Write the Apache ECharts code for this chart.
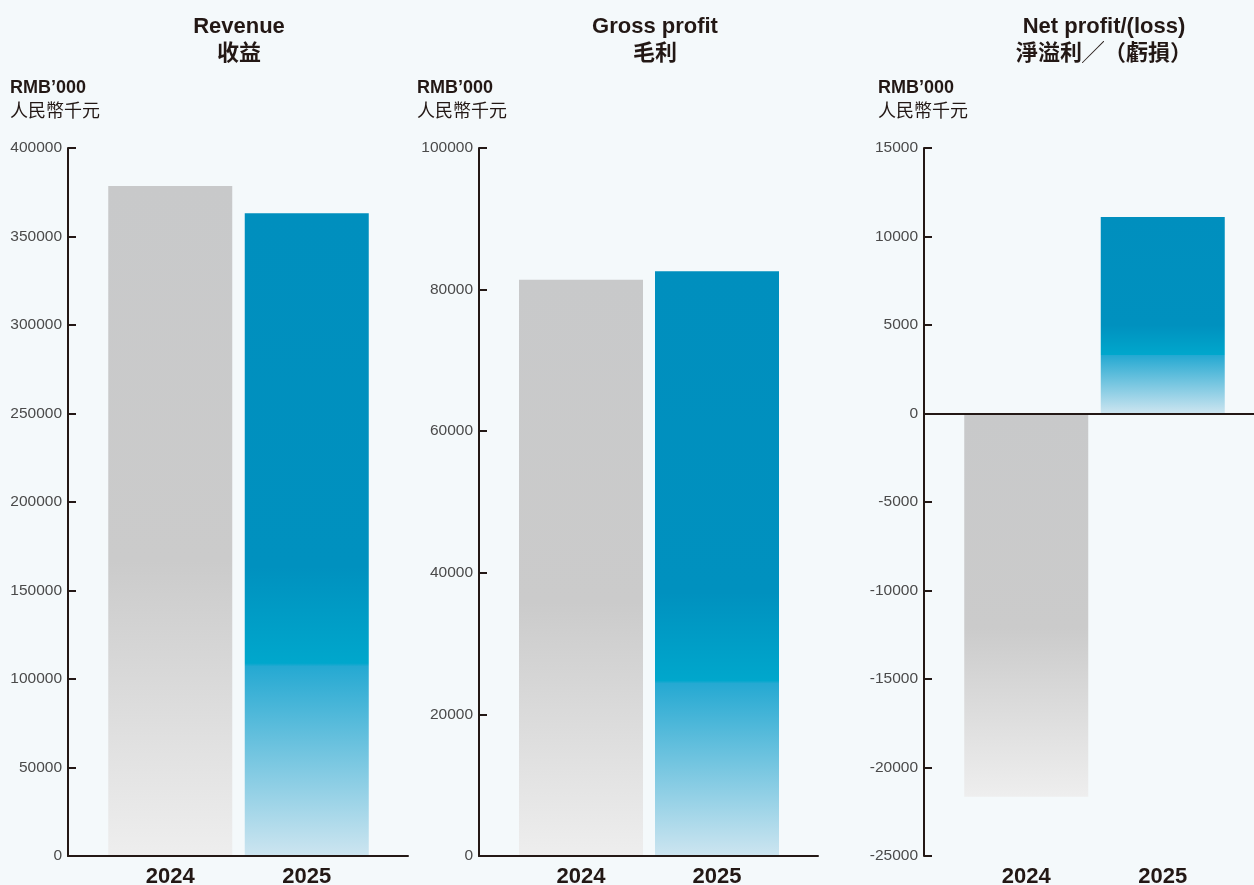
<!DOCTYPE html>
<html><head><meta charset="utf-8">
<script src="https://cdn.jsdelivr.net/npm/echarts@6/dist/echarts.min.js"></script>
<style>html,body{margin:0;padding:0;background:#f4f9fb}#c{width:1254px;height:885px}</style>
</head><body><div id="c"></div>
<script>
// ---- data ----
const categories = ['2024', '2025'];
const revenueValues = [378500, 363100];
const grossProfitValues = [81400, 82600];
const netProfitValues = [-21650, 11100];
const titlesEn = ['Revenue', 'Gross profit', 'Net profit/(loss)'];
const titlesZh = ['收益', '毛利', '淨溢利╱（虧損）'];
const unitEn = 'RMB’000';
const unitZh = '人民幣千元';
const revenueAxis = { min: 0, max: 400000, interval: 50000 };
const grossAxis = { min: 0, max: 100000, interval: 20000 };
const netAxis = { min: -25000, max: 15000, interval: 5000 };

// ---- style / layout ----
const FONT = '"Liberation Sans", Arial, "Noto Sans CJK TC", sans-serif';
const INK = '#231815';
const grayGrad = new echarts.graphic.LinearGradient(0, 0, 0, 1, [
  { offset: 0, color: '#c8c9ca' },
  { offset: 0.56, color: '#cbcbcb' },
  { offset: 1, color: '#eeeeee' }
]);
const blueGrad = new echarts.graphic.LinearGradient(0, 0, 0, 1, [
  { offset: 0, color: '#008fbe' },
  { offset: 0.55, color: '#0091bf' },
  { offset: 0.70, color: '#00a7cc' },
  { offset: 0.705, color: '#25a9d2' },
  { offset: 1, color: '#cde5f0' }
]);
const barColors = [grayGrad, blueGrad];

const panels = [
  { values: revenueValues, axis: revenueAxis, axisLeft: 68, axisRight: 846, barLeft: 102, barW: 273, titleX: 239, unitX: 10 },
  { values: grossProfitValues, axis: grossAxis, axisLeft: 479, axisRight: 436, barLeft: 513, barW: 272, titleX: 655, unitX: 417 },
  { values: netProfitValues, axis: netAxis, axisLeft: 924, axisRight: 0, barLeft: 958, barW: 273, titleX: 1104, unitX: 878 }
];

const grid = [], xAxis = [], yAxis = [], series = [], title = [];
panels.forEach((p, i) => {
  const gb = 2 * i, ga = 2 * i + 1;
  grid.push({ left: p.axisLeft, right: p.axisRight, top: 148, height: 708, outerBoundsMode: 'none', containLabel: false });
  grid.push({ left: p.barLeft, width: p.barW, top: 148, height: 708, outerBoundsMode: 'none', containLabel: false });
  xAxis.push({
    gridIndex: gb, type: 'category', data: categories, z: 5,
    axisLine: { show: true, onZero: true, lineStyle: { color: INK, width: 2 } },
    axisTick: { show: false }, axisLabel: { show: false }, splitLine: { show: false }
  });
  xAxis.push({
    gridIndex: ga, type: 'category', data: categories,
    axisLine: { show: false, onZero: false }, axisTick: { show: false },
    axisLabel: { fontSize: 22, fontWeight: 'bold', color: INK, fontFamily: FONT, margin: 10 }
  });
  yAxis.push({
    gridIndex: gb, type: 'value', min: p.axis.min, max: p.axis.max, interval: p.axis.interval, z: 5,
    axisLine: { show: true, lineStyle: { color: INK, width: 2 } },
    axisTick: { show: true, inside: true, length: 8, lineStyle: { color: INK, width: 2 } },
    axisLabel: { formatter: v => String(v), color: '#4a4a4a', fontSize: 15.5, fontFamily: FONT, margin: 6 },
    splitLine: { show: false }
  });
  yAxis.push({ gridIndex: ga, type: 'value', min: p.axis.min, max: p.axis.max, show: false });
  series.push({
    type: 'bar', xAxisIndex: ga, yAxisIndex: ga, barWidth: 124, silent: true,
    data: p.values.map((v, j) => ({ value: v, itemStyle: { color: barColors[j] } }))
  });
  title.push({
    text: titlesEn[i] + '\n' + titlesZh[i], left: p.titleX, top: 13, textAlign: 'center', padding: 0,
    textStyle: { fontSize: 22, fontWeight: 'bold', color: INK, fontFamily: FONT, lineHeight: 27 }
  });
  title.push({
    text: unitEn, subtext: unitZh, left: p.unitX, top: 79, padding: 0, itemGap: 6,
    textStyle: { fontSize: 18, fontWeight: 'bold', color: INK, fontFamily: FONT },
    subtextStyle: { fontSize: 18, color: INK, fontFamily: FONT }
  });
});

const chart = echarts.init(document.getElementById('c'), null, { renderer: 'canvas' });
chart.setOption({
  backgroundColor: '#f4f9fb',
  animation: false,
  title, grid, xAxis, yAxis, series
});
</script></body></html>
